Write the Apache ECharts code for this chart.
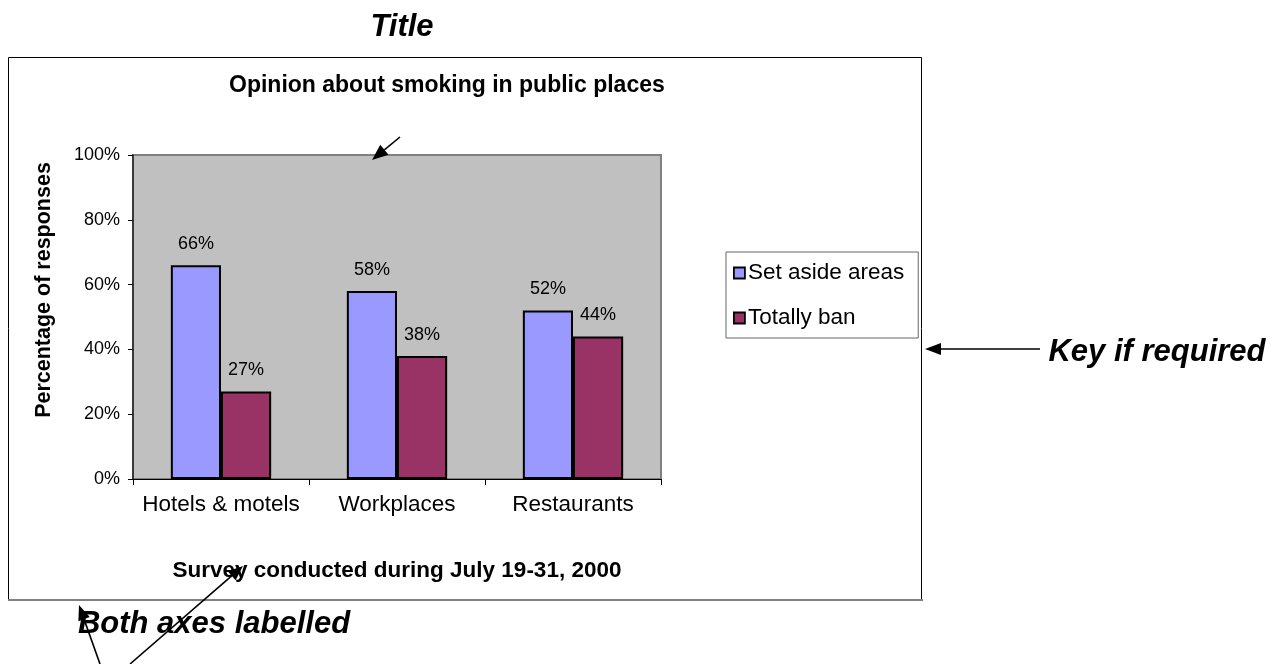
<!DOCTYPE html>
<html>
<head>
<meta charset="utf-8">
<script src="https://cdn.jsdelivr.net/npm/echarts@6/dist/echarts.min.js"></script>
<style>html,body{margin:0;padding:0;background:#fff;}#c{width:1276px;height:664px;}</style>
</head>
<body>
<div id="c"></div>
<script>
var categories = ['Hotels & motels', 'Workplaces', 'Restaurants'];
var setAside = [66, 58, 52];
var totallyBan = [27, 38, 44];
var seriesNames = ['Set aside areas', 'Totally ban'];
var yTicks = [0, 20, 40, 60, 80, 100];

var FONT = '"Liberation Sans", Arial, Helvetica, sans-serif';

function arrow(tip, tail, len, wid) {
  var dx = tail[0] - tip[0], dy = tail[1] - tip[1];
  var d = Math.sqrt(dx * dx + dy * dy);
  var ux = dx / d, uy = dy / d;
  var bx = tip[0] + ux * len, by = tip[1] + uy * len;
  var px = -uy * wid / 2, py = ux * wid / 2;
  return [
    { type: 'line', shape: { x1: tail[0], y1: tail[1], x2: bx, y2: by }, style: { stroke: '#000', lineWidth: 1.6 }, z: 100 },
    { type: 'polygon', shape: { points: [tip, [bx + px, by + py], [bx - px, by - py]] }, style: { fill: '#000' }, z: 100 }
  ];
}

var graphics = [
  { type: 'rect', shape: { x: 8.5, y: 57.5, width: 913, height: 542 }, style: { fill: 'none', stroke: '#000', lineWidth: 1 }, z: -10, silent: true },
  { type: 'line', shape: { x1: 8, y1: 600, x2: 923, y2: 600 }, style: { stroke: '#808080', lineWidth: 2 }, z: -9, silent: true },
  { type: 'text', x: 402, y: 27, style: { text: 'Title', font: 'italic bold 31px ' + FONT, fill: '#000', textAlign: 'center', textVerticalAlign: 'middle' } },
  { type: 'text', x: 1157, y: 352, style: { text: 'Key if required', font: 'italic bold 31px ' + FONT, fill: '#000', textAlign: 'center', textVerticalAlign: 'middle' } },
  { type: 'text', x: 214, y: 624, style: { text: 'Both axes labelled', font: 'italic bold 31px ' + FONT, fill: '#000', textAlign: 'center', textVerticalAlign: 'middle' } }
];
graphics = graphics
  .concat(arrow([372, 160], [400, 137], 16, 13))
  .concat(arrow([925, 349], [1040, 349], 16, 12))
  .concat(arrow([79, 605], [100, 664], 15, 12))
  .concat(arrow([243, 566], [130, 664], 15, 12));

var chart = echarts.init(document.getElementById('c'), null, { renderer: 'canvas' });
chart.setOption({
  animation: false,
  backgroundColor: '#fff',
  textStyle: { fontFamily: FONT },
  title: {
    text: 'Opinion about smoking in public places',
    left: 229, top: 74, padding: 0,
    textStyle: { fontFamily: FONT, fontWeight: 'bold', fontSize: 23, color: '#000' }
  },
  legend: {
    orient: 'vertical',
    left: 726, top: 252,
    padding: [8, 14, 7, 7],
    backgroundColor: '#fff',
    borderColor: '#666', borderWidth: 1,
    itemWidth: 11, itemHeight: 11, itemGap: 19,
    icon: 'rect',
    itemStyle: { borderColor: '#000', borderWidth: 1.8 },
    textStyle: { fontFamily: FONT, fontSize: 22.5, color: '#000', lineHeight: 26, padding: [0, 0, 0, -2] },
    data: seriesNames
  },
  grid: {
    left: 133, top: 155, width: 528, height: 324,
    show: true, backgroundColor: '#C0C0C0', borderColor: '#808080', borderWidth: 2,
    containLabel: false
  },
  xAxis: {
    type: 'category',
    data: categories,
    name: 'Survey conducted during July 19-31, 2000',
    nameLocation: 'middle', nameGap: 80,
    nameTextStyle: { fontFamily: FONT, fontWeight: 'bold', fontSize: 22.5, color: '#000' },
    axisLine: { lineStyle: { color: '#000', width: 1.2 } },
    axisTick: { show: true, length: 6, lineStyle: { color: '#000' } },
    axisLabel: { interval: 0, hideOverlap: false, fontFamily: FONT, fontSize: 22.5, color: '#000', margin: 14 }
  },
  yAxis: {
    type: 'value',
    min: yTicks[0], max: yTicks[yTicks.length - 1], interval: 20,
    name: 'Percentage of responses',
    nameLocation: 'middle', nameGap: 78, nameRotate: 90,
    nameTextStyle: { fontFamily: FONT, fontWeight: 'bold', fontSize: 21.5, color: '#000', padding: [0, 0, 0, 54] },
    axisLine: { show: true, lineStyle: { color: '#222', width: 1.5 } },
    axisTick: { show: true, length: 5, lineStyle: { color: '#000' } },
    splitLine: { show: false },
    axisLabel: { fontFamily: FONT, fontSize: 18, color: '#000', margin: 13, formatter: '{value}%' }
  },
  series: [
    {
      name: seriesNames[0], type: 'bar', data: setAside,
      barGap: '0%', barCategoryGap: '43%',
      itemStyle: { color: '#9999FF', borderColor: '#000', borderWidth: 2 },
      label: { show: true, position: 'top', distance: 12, formatter: '{c}%', fontFamily: FONT, fontSize: 18, color: '#000' }
    },
    {
      name: seriesNames[1], type: 'bar', data: totallyBan,
      barGap: '0%', barCategoryGap: '43%',
      itemStyle: { color: '#993366', borderColor: '#000', borderWidth: 2 },
      label: { show: true, position: 'top', distance: 12, formatter: '{c}%', fontFamily: FONT, fontSize: 18, color: '#000' }
    }
  ],
  graphic: graphics
});
</script>
</body>
</html>
